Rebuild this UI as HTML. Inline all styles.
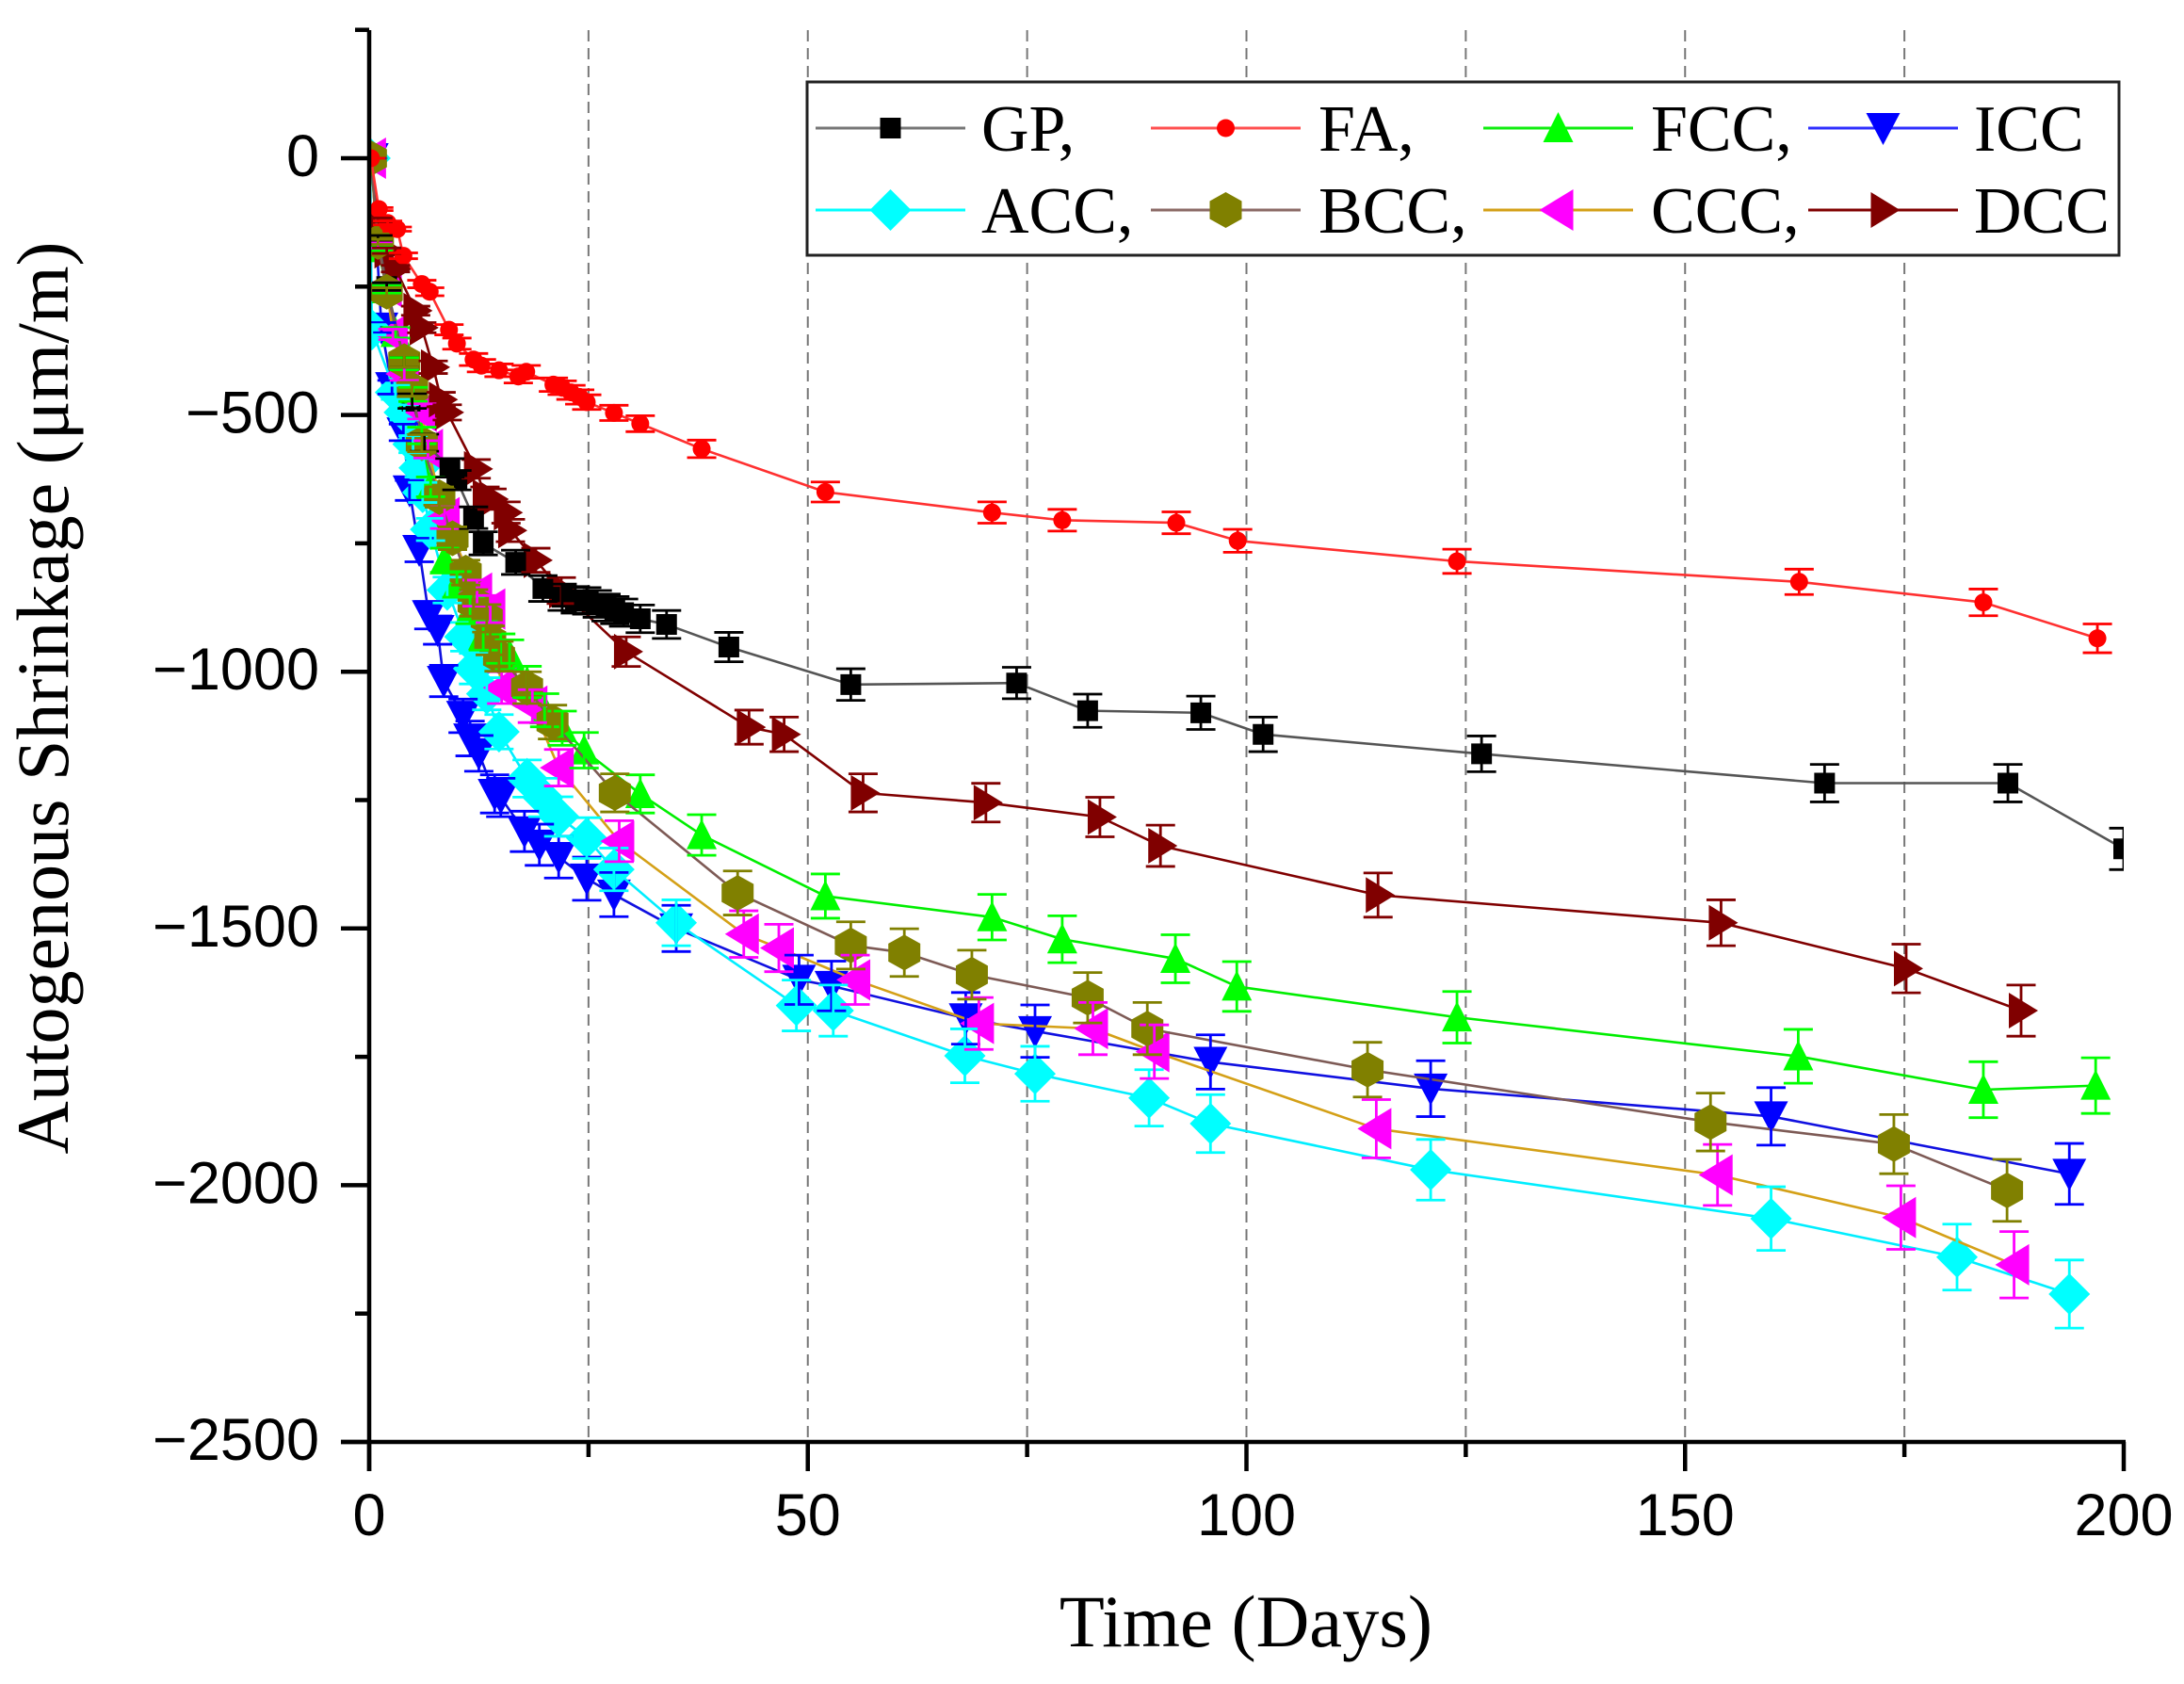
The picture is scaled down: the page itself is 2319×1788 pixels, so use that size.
<!DOCTYPE html>
<html lang="en">
<head>
<meta charset="utf-8">
<title>Autogenous Shrinkage vs Time</title>
<style>
html,body{margin:0;padding:0;background:#fff;width:2319px;height:1788px;overflow:hidden}
svg{display:block}
.tick{font-family:"Liberation Sans",Arial,sans-serif;font-size:63px;fill:#000}
.title{font-family:"Liberation Serif","Times New Roman",serif;fill:#000}
.legend-text{font-family:"Liberation Serif","Times New Roman",serif;font-size:70px;fill:#000}
</style>
</head>
<body>
<svg id="chart" xmlns="http://www.w3.org/2000/svg" width="2319" height="1788" viewBox="0 0 2319 1788">
  <defs>
    <clipPath id="plot-clip"><rect x="392" y="0" width="1863" height="1788"/></clipPath>
  </defs>
  <rect x="0" y="0" width="2319" height="1788" fill="#fff"/>
  <g id="guides"></g>
  <g id="series" clip-path="url(#plot-clip)"></g>
  <g id="errors" clip-path="url(#plot-clip)"></g>
  <g id="axes"></g>
  <text class="title" font-size="78" text-anchor="middle" transform="translate(72 741) rotate(-90)">Autogenous Shrinkage (μm/m)</text>
  <text class="title" font-size="78.5" text-anchor="middle" x="1323" y="1748">Time (Days)</text>
  <g id="legend">
    <rect x="857" y="87" width="1393" height="184" fill="#fff" stroke="#222" stroke-width="3"/>
    <text class="legend-text" x="1042" y="160">GP,</text>
    <text class="legend-text" x="1400" y="160">FA,</text>
    <text class="legend-text" x="1753" y="160">FCC,</text>
    <text class="legend-text" x="2096" y="160">ICC</text>
    <text class="legend-text" x="1042" y="247">ACC,</text>
    <text class="legend-text" x="1400" y="247">BCC,</text>
    <text class="legend-text" x="1753" y="247">CCC,</text>
    <text class="legend-text" x="2096" y="247">DCC</text>
  </g>
</svg>
<script>
// ---- chart data ----
const gpDays = [0.2,1,2,4,4.9,6.3,9.2,10,11.9,13,16.7,19.8,22,23.5,24.8,26,27,28,29,30.9,33.9,41,54.9,73.8,81.9,94.8,101.9,126.8,165.9,186.8,200];
const gpValues = [0,-155,-250,-395,-473,-554,-603,-627,-700,-750,-787,-838,-855,-860,-862,-868,-875,-880,-885,-897,-908,-952,-1025,-1022,-1076,-1080,-1122,-1160,-1217,-1217,-1345];

const faDays = [0.2,1.1,2.1,3.2,3.9,6,6.9,9.1,10,11.9,12.8,14.8,17,17.9,21,22,23,24,24.8,27.9,30.9,37.9,52,71,79,92,99,124,163,184,197];
const faValues = [0,-99,-126,-138,-190,-245,-260,-334,-361,-392,-404,-413,-425,-416,-441,-447,-456,-465,-475,-496,-517,-566,-650,-690,-705,-710,-745,-785,-825,-865,-935];

const fccDays = [0.2,1,2,3,4,5,6,7,8.6,10,11.5,13,15,16,18,20,22,24.5,30.9,37.9,52,71,79,91.9,98.9,124,162.9,184,196.8];
const fccValues = [0,-175,-255,-340,-400,-460,-540,-640,-783,-830,-880,-930,-955,-967,-1020,-1075,-1110,-1153,-1238,-1318,-1437,-1478,-1521,-1559,-1613,-1673,-1749,-1814,-1806];

const iccDays = [0.3,1.4,2.6,3.9,4.6,5.7,6.8,7.8,8.5,10.7,11.5,12.5,14.3,15,17.7,19.4,21.6,24.8,27.9,35,49,52.7,68,75.9,95.9,121,159.8,193.8];
const iccValues = [0,-330,-446,-534,-647,-763,-890,-919,-1018,-1086,-1130,-1159,-1238,-1245,-1311,-1337,-1361,-1403,-1434,-1500,-1600,-1612,-1675,-1700,-1760,-1812,-1866,-1978];

const accDays = [0.1,0.3,3,4,5,5.7,6.1,7,8.9,10.9,11.9,13.4,14.8,18,19.8,21.6,24.8,27.9,35,48.7,52.9,67.9,75.9,88.9,95.9,121,159.8,181,193.8];
const accValues = [0,-334,-456,-495,-557,-603,-651,-723,-841,-932,-994,-1043,-1117,-1208,-1245,-1282,-1324,-1385,-1489,-1650,-1660,-1748,-1783,-1830,-1880,-1970,-2065,-2140,-2212];

const bccDays = [0.2,1,2,4,4.9,6,8,9.5,11,11.9,13.4,13.8,14.8,18,20.9,28,42,54.9,61,68.7,81.9,88.7,113.8,152.9,173.8,186.7];
const bccValues = [0,-163,-260,-395,-450,-555,-660,-740,-807,-866,-896,-939,-970,-1031,-1098,-1236,-1431,-1533,-1547,-1590,-1635,-1695,-1775,-1877,-1920,-2010];

const cccDays = [0.2,1,2,2.7,4,6,6.7,8.6,12.3,13.8,15.1,18.6,21.6,28.5,42.7,46.7,55.4,69.5,82.5,89.5,114.8,153.7,174.6,187.5];
const cccValues = [0,-170,-250,-343,-420,-493,-567,-700,-847,-878,-1031,-1067,-1187,-1330,-1511,-1538,-1600,-1685,-1695,-1740,-1890,-1980,-2063,-2155];

const dccDays = [0.2,1,2,3,5.3,6,7.3,8.2,8.9,12.2,13.2,14,15.6,16.1,19,21.9,29.3,43.3,47.3,56.3,70.3,83.3,90.2,115,154.1,175.2,188.3];
const dccValues = [0,-120,-180,-215,-297,-330,-407,-470,-495,-605,-660,-664,-690,-725,-783,-842,-961,-1108,-1122,-1236,-1255,-1283,-1339,-1435,-1489,-1578,-1660];

const errorFraction = 0.03;
const xMajorTicks = [0,50,100,150,200];
const xMinorTicks = [25,75,125,175];
const guideDays = [25,50,75,100,125,150,175];
const yMajorTicks = [0,-500,-1000,-1500,-2000,-2500];
const yMinorTicks = [250,-250,-750,-1250,-1750,-2250];

// ---- axis functions ----
const X0 = 392, X1 = 2255, Y0 = 168, Y1 = 1531;
function px(d){ return X0 + (d / 200) * (X1 - X0); }
function py(v){ return Y0 + (v / -2500) * (Y1 - Y0); }

const NS = 'http://www.w3.org/2000/svg';
function make(tag, parent, attrs){
  const el = document.createElementNS(NS, tag);
  for (const k in attrs) el.setAttribute(k, attrs[k]);
  parent.appendChild(el);
  return el;
}

const shapes = {
  square:   [[-11,-11],[11,-11],[11,11],[-11,11]],
  triUp:    [[0,-17],[16,15],[-16,15]],
  triDown:  [[-18,-16],[18,-16],[0,18]],
  diamond:  [[0,-22],[22,0],[0,22],[-22,0]],
  hexagon:  [[0,-19],[17,-9.5],[17,9.5],[0,19],[-17,9.5],[-17,-9.5]],
  triLeft:  [[-20,0],[16,-22],[16,22]],
  triRight: [[-13,-19],[18,0],[-13,19]]
};

function drawMarker(parent, shape, cx, cy, color){
  let el;
  if (shape === 'circle') {
    el = make('circle', parent, {cx: cx, cy: cy, r: 9.5, fill: color});
  } else {
    const pts = shapes[shape].map(function(p){ return (cx + p[0]) + ',' + (cy + p[1]); }).join(' ');
    el = make('polygon', parent, {points: pts, fill: color});
  }
  return el;
}

const seriesList = [
  {key:'icc', days:iccDays, values:iccValues, line:'#1010e0', color:'#0000ff', shape:'triDown', cap:15.5},
  {key:'acc', days:accDays, values:accValues, line:'#00eeff', color:'#00ffff', shape:'diamond', cap:15.5},
  {key:'fcc', days:fccDays, values:fccValues, line:'#00ee00', color:'#00ff00', shape:'triUp',   cap:15.5},
  {key:'ccc', days:cccDays, values:cccValues, line:'#d4a017', color:'#ff00ff', shape:'triLeft', cap:15.5},
  {key:'dcc', days:dccDays, values:dccValues, line:'#800000', color:'#800000', shape:'triRight',cap:15.5},
  {key:'gp',  days:gpDays,  values:gpValues,  line:'#555555', color:'#000000', shape:'square',  cap:15.5},
  {key:'bcc', days:bccDays, values:bccValues, line:'#7d5a55', color:'#808000', shape:'hexagon', cap:15.5},
  {key:'fa',  days:faDays,  values:faValues,  line:'#ff3030', color:'#ff0000', shape:'circle',  cap:15.5}
];

// guides
const guides = document.getElementById('guides');
guideDays.forEach(function(d){
  const g = make('line', guides, {x1:px(d), x2:px(d), y1:32, y2:Y1, stroke:'#777', 'stroke-width':2, 'stroke-dasharray':'12 7'});
  
  
});

// series
const seriesGroup = document.getElementById('series');
const errorGroup = document.getElementById('errors');
seriesList.forEach(function(s){
  const g = make('g', seriesGroup, {});
  
  
  const pts = s.days.map(function(d, i){ return px(d) + ',' + py(s.values[i]); }).join(' ');
  const line = make('polyline', g, {points: pts, fill:'none', stroke:s.line, 'stroke-width':2.6, 'stroke-linejoin':'round'});
  
  
  s.days.forEach(function(d, i){
    const m = drawMarker(g, s.shape, px(d), py(s.values[i]), s.color);
    
    
    const cx = px(d);
    const delta = Math.abs(s.values[i]) * errorFraction;
    const top = py(s.values[i] + delta), bot = py(s.values[i] - delta);
    const bar = make('path', errorGroup, {
      d: 'M' + cx + ' ' + top + 'V' + bot + 'M' + (cx - s.cap) + ' ' + top + 'H' + (cx + s.cap) + 'M' + (cx - s.cap) + ' ' + bot + 'H' + (cx + s.cap),
      fill:'none', stroke:s.color, 'stroke-width':2.8
    });
    
    
  });
});

// axes
const axes = document.getElementById('axes');
const yAxisLine = make('line', axes, {x1:X0, x2:X0, y1:32, y2:1562, stroke:'#000', 'stroke-width':4.5});


const xAxisLine = make('line', axes, {x1:X0 - 30, x2:X1 + 2, y1:Y1, y2:Y1, stroke:'#000', 'stroke-width':4.5});



yMajorTicks.forEach(function(v){
  const t = make('line', axes, {x1:X0 - 30, x2:X0, y1:py(v), y2:py(v), stroke:'#000', 'stroke-width':4.5});
  
  
  const label = make('text', axes, {x:339, y:py(v) + 19, 'text-anchor':'end', 'class':'tick'});
  label.textContent = v < 0 ? '\u2212' + Math.abs(v) : String(v);
  
  
});
yMinorTicks.forEach(function(v){
  const t = make('line', axes, {x1:X0 - 15, x2:X0, y1:py(v), y2:py(v), stroke:'#000', 'stroke-width':4.5});
  
  
});
xMajorTicks.forEach(function(d){
  const t = make('line', axes, {x1:px(d), x2:px(d), y1:Y1, y2:1562, stroke:'#000', 'stroke-width':4.5});
  
  
  const label = make('text', axes, {x:px(d), y:1630, 'text-anchor':'middle', 'class':'tick'});
  label.textContent = String(d);
  
  
});
xMinorTicks.forEach(function(d){
  const t = make('line', axes, {x1:px(d), x2:px(d), y1:Y1, y2:1547, stroke:'#000', 'stroke-width':4.5});
  
  
});

// legend samples
const legend = document.getElementById('legend');
const legendSamples = [
  ['gp', 866, 136, '#777777', '#000000', 'square'],
  ['fa', 1222, 136, '#ff5050', '#ff0000', 'circle'],
  ['fcc', 1575, 136, '#10ee10', '#00ff00', 'triUp'],
  ['icc', 1920, 136, '#3030ff', '#0000ff', 'triDown'],
  ['acc', 866, 223, '#00ffff', '#00ffff', 'diamond'],
  ['bcc', 1222, 223, '#8b6a66', '#808000', 'hexagon'],
  ['ccc', 1575, 223, '#d4a017', '#ff00ff', 'triLeft'],
  ['dcc', 1920, 223, '#800000', '#800000', 'triRight']
];
legendSamples.forEach(function(e){
  const sample = make('line', legend, {x1:e[1], x2:e[1] + 159, y1:e[2], y2:e[2], stroke:e[3], 'stroke-width':3});
  
  
  const mark = drawMarker(legend, e[5], e[1] + 79.5, e[2], e[4]);
  
  
});
</script>
</body>
</html>
